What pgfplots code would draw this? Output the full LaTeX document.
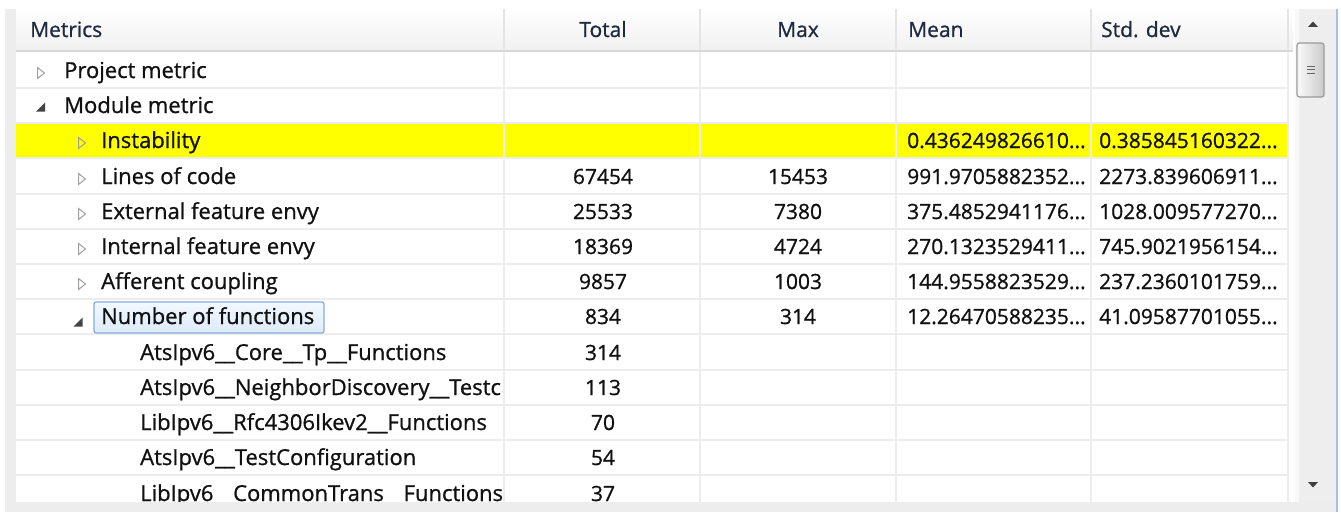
\documentclass[border=0pt]{standalone}
\usepackage{pgfplots}
\pgfplotsset{compat=1.18}
\usepackage{fontspec}
\setmainfont{Open Sans}[FakeBold=0.9]
\definecolor{hdrtext}{HTML}{1E2A40}
\definecolor{hdrfill}{HTML}{F0F0F0}
\definecolor{gridc}{HTML}{EDEDED}
\definecolor{hdrsep}{HTML}{E4E4E4}
\definecolor{hdrline}{HTML}{D8D8D8}
\definecolor{framec}{HTML}{EDEDED}
\definecolor{selfilltop}{HTML}{F2F8FE}
\definecolor{selfillbot}{HTML}{DDEBFA}
\definecolor{selborder}{HTML}{84ACDD}
\definecolor{thumbborder}{HTML}{9A9A9A}
\definecolor{trackc}{HTML}{EEEEEE}
\definecolor{bluebar}{HTML}{A4BFE2}
\definecolor{arrowc}{HTML}{404040}
\definecolor{tricol}{HTML}{A0A0A0}
\definecolor{tridark}{HTML}{444444}
\definecolor{hl}{HTML}{FFFF00}
\definecolor{txt}{HTML}{111111}
\newcommand\fs{\fontsize{22bp}{26bp}\selectfont}
\newcommand\fn{\fontsize{21bp}{25bp}\selectfont}

\begin{document}
\begin{tikzpicture}
\begin{axis}[
  width=1341bp, height=512bp, scale only axis,
  xmin=0, xmax=1341, ymin=0, ymax=512, y dir=reverse,
  hide axis, clip=false,
  every node near coord/.append style={inner sep=0pt, font=\fn, text=txt},
]
% ---------- frame and background ----------
\fill[white] (0,0) rectangle (1341,512);
\fill[framec] (5,9) rectangle (16,512);
\fill[framec] (5,502) rectangle (1337,512);
% ---------- header ----------
\shade[top color=white, bottom color=hdrfill] (16,9) rectangle (1293,50);
\draw[hdrsep, line width=1.5bp] (504,9) -- (504,50);
\draw[hdrsep, line width=1.5bp] (700,9) -- (700,50);
\draw[hdrsep, line width=1.5bp] (896,9) -- (896,50);
\draw[hdrsep, line width=1.5bp] (1091,9) -- (1091,50);
\draw[hdrsep, line width=1.5bp] (1288,9) -- (1288,50);
\draw[hdrline, line width=2bp] (16,51) -- (1293,51);
% ---------- highlighted row ----------
\fill[hl] (16,123) rectangle (1288,158);
% ---------- grid ----------
\draw[gridc, line width=2bp] (16,88) -- (1288,88);
\draw[gridc, line width=2bp] (16,123) -- (1288,123);
\draw[gridc, line width=2bp] (16,158) -- (1288,158);
\draw[gridc, line width=2bp] (16,194) -- (1288,194);
\draw[gridc, line width=2bp] (16,229) -- (1288,229);
\draw[gridc, line width=2bp] (16,264) -- (1288,264);
\draw[gridc, line width=2bp] (16,299) -- (1288,299);
\draw[gridc, line width=2bp] (16,334) -- (1288,334);
\draw[gridc, line width=2bp] (16,370) -- (1288,370);
\draw[gridc, line width=2bp] (16,405) -- (1288,405);
\draw[gridc, line width=2bp] (16,440) -- (1288,440);
\draw[gridc, line width=2bp] (16,475) -- (1288,475);
\draw[gridc, line width=2bp] (504,52) -- (504,502);
\draw[gridc, line width=2bp] (700,52) -- (700,502);
\draw[gridc, line width=2bp] (896,52) -- (896,502);
\draw[gridc, line width=2bp] (1091,52) -- (1091,502);
\draw[gridc, line width=2bp] (1288,52) -- (1288,502);
% ---------- selection box ----------
\shade[top color=selfilltop, bottom color=selfillbot, rounded corners=2bp] (94,302) rectangle (324,333);
\draw[selborder, line width=1.2bp, rounded corners=2bp] (94,302) rectangle (324,333);
% ---------- tree glyphs ----------
\draw[tricol, line width=1bp] (37.5,67.5) -- (44.5,73) -- (37.5,78.5) -- cycle;
\fill[tridark] (45,102.5) -- (45,111.5) -- (36,111.5) -- cycle;
\draw[tricol, line width=1bp] (78.5,137.5) -- (85.5,143) -- (78.5,148.5) -- cycle;
\draw[tricol, line width=1bp] (78.5,173.5) -- (85.5,179) -- (78.5,184.5) -- cycle;
\draw[tricol, line width=1bp] (78.5,208.5) -- (85.5,214) -- (78.5,219.5) -- cycle;
\draw[tricol, line width=1bp] (78.5,243.5) -- (85.5,249) -- (78.5,254.5) -- cycle;
\draw[tricol, line width=1bp] (78.5,278.5) -- (85.5,284) -- (78.5,289.5) -- cycle;
\fill[tridark] (82.5,317.5) -- (82.5,326.5) -- (73.5,326.5) -- cycle;
% ---------- header text ----------
\node[anchor=base west, inner sep=0pt, font=\fn, text=hdrtext] at (30,37) {Metrics};
\node[anchor=base, inner sep=0pt, font=\fn, text=hdrtext] at (603,37) {Total};
\node[anchor=base, inner sep=0pt, font=\fn, text=hdrtext] at (798,37) {Max};
\node[anchor=base west, inner sep=0pt, font=\fn, text=hdrtext] at (908,37) {Mean};
\node[anchor=base west, inner sep=0pt, font=\fn, text=hdrtext] at (1101,37) {Std. dev};
% ---------- first column (clipped to its cell area) ----------
\begin{scope}
\clip (16,52) rectangle (502,502);
\node[anchor=base west, inner sep=0pt, font=\fs, text=txt] at (64,78) {Project metric};
\node[anchor=base west, inner sep=0pt, font=\fs, text=txt] at (64,113) {Module metric};
\node[anchor=base west, inner sep=0pt, font=\fs, text=txt] at (101,148) {Instability};
\node[anchor=base west, inner sep=0pt, font=\fs, text=txt] at (101,184) {Lines of code};
\node[anchor=base west, inner sep=0pt, font=\fs, text=txt] at (101,219) {External feature envy};
\node[anchor=base west, inner sep=0pt, font=\fs, text=txt] at (101,254) {Internal feature envy};
\node[anchor=base west, inner sep=0pt, font=\fs, text=txt] at (101,289) {Afferent coupling};
\node[anchor=base west, inner sep=0pt, font=\fs, text=txt] at (101,324) {Number of functions};
\node[anchor=base west, inner sep=0pt, font=\fs, text=txt] at (140,360) {AtsIpv6\_\_Core\_\_Tp\_\_Functions};
\node[anchor=base west, inner sep=0pt, font=\fs, text=txt] at (140,395) {AtsIpv6\_\_NeighborDiscovery\_\_Testcases};
\node[anchor=base west, inner sep=0pt, font=\fs, text=txt] at (140,430) {LibIpv6\_\_Rfc4306Ikev2\_\_Functions};
\node[anchor=base west, inner sep=0pt, font=\fs, text=txt] at (140,465) {AtsIpv6\_\_TestConfiguration};
\node[anchor=base west, inner sep=0pt, font=\fs, text=txt] at (140,501) {LibIpv6\_\_CommonTrans\_\_Functions};
\end{scope}
% ---------- Total ----------
\addplot[draw=none, mark=none, nodes near coords, point meta=explicit symbolic,
  every node near coord/.append style={anchor=base}]
  coordinates {(603,184)[67454] (603,219)[25533] (603,254)[18369] (603,289)[9857]
  (603,324)[834] (603,360)[314] (603,395)[113] (603,430)[70] (603,465)[54] (603,501)[37]};
% ---------- Max ----------
\addplot[draw=none, mark=none, nodes near coords, point meta=explicit symbolic,
  every node near coord/.append style={anchor=base}]
  coordinates {(798,184)[15453] (798,219)[7380] (798,254)[4724] (798,289)[1003] (798,324)[314]};
% ---------- Mean ----------
\addplot[draw=none, mark=none, nodes near coords, point meta=explicit symbolic,
  every node near coord/.append style={anchor=base west}]
  coordinates {(907,148)[0.436249826610...] (907,184)[991.9705882352...] (907,219)[375.4852941176...]
  (907,254)[270.1323529411...] (907,289)[144.9558823529...] (907,324)[12.26470588235...]};
% ---------- Std. dev ----------
\addplot[draw=none, mark=none, nodes near coords, point meta=explicit symbolic,
  every node near coord/.append style={anchor=base west}]
  coordinates {(1099,148)[0.385845160322...] (1099,184)[2273.839606911...] (1099,219)[1028.009577270...]
  (1099,254)[745.9021956154...] (1099,289)[237.2360101759...] (1099,324)[41.09587701055...]};
% ---------- bottom strip covers overflow ----------
\fill[framec] (16,502) rectangle (1293,512);
% ---------- scrollbar ----------
\fill[trackc] (1295,9) rectangle (1336,502);
\fill[white!60!trackc] (1295,9) rectangle (1299,502);
\draw[bluebar, line width=2bp] (1337,9) -- (1337,512);
\fill[arrowc] (1308,27) -- (1318,27) -- (1313,21.5) -- cycle;
\fill[arrowc] (1308,482) -- (1318,482) -- (1313,487.5) -- cycle;
\shade[left color=white!70!trackc, right color=trackc!85!black, rounded corners=2.5bp] (1297,43) rectangle (1324,97);
\draw[thumbborder, line width=1.2bp, rounded corners=2.5bp] (1297,43) rectangle (1324,97);
\draw[gray!80!black, line width=1bp] (1307,66) -- (1315,66);
\draw[gray!80!black, line width=1bp] (1307,69.5) -- (1315,69.5);
\draw[gray!80!black, line width=1bp] (1307,73) -- (1315,73);
\end{axis}
\end{tikzpicture}
\end{document}
